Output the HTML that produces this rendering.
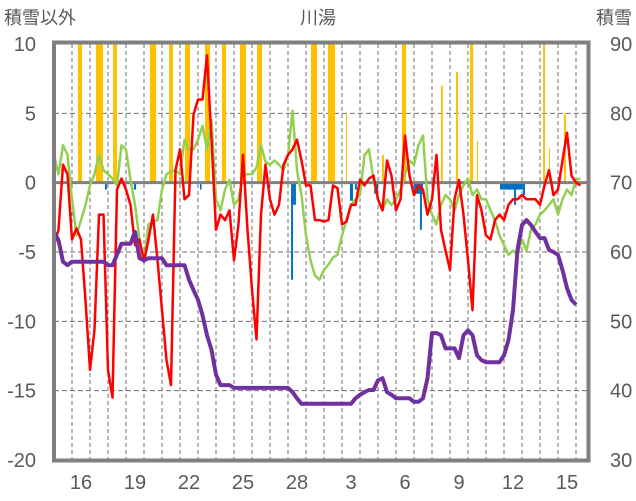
<!DOCTYPE html>
<html><head><meta charset="utf-8">
<style>
body{margin:0;background:#fff;}
svg{display:block;font-family:"Liberation Sans","Noto Sans CJK JP",sans-serif;}
.t{fill:#595959;font-size:20px;}
</style></head>
<body>
<svg id="chart" width="636" height="501">
<text class="t" x="4" y="24" style="font-size:18px">積雪以外</text>
<text class="t" x="318" y="24" text-anchor="middle" style="font-size:18px">川湯</text>
<text class="t" x="632" y="24" text-anchor="end" style="font-size:18px">積雪</text>
<g id="grid"></g><g id="bars"></g><g id="lines"></g><g id="axes"></g>
</svg>
<script>
const dayLabels=["16","19","22","25","28","3","6","9","12","15"];
const dayLabelIdx=[1,4,7,10,13,16,19,22,25,28];
const leftTicks=[10,5,0,-5,-10,-15,-20];
const rightTicks=[90,80,70,60,50,40,30];
const step=0.25;
const redV=[-4.5,-3.4,1.3,0.6,-4.1,-3.3,-4.1,-8.5,-13.5,-10.6,-2.3,-2.3,-13.5,-15.5,-0.5,0.3,-0.5,-1.6,-4.5,-4.1,-5.7,-4.1,-2.3,-5.6,-9.2,-12.8,-14.6,0.9,2.4,-1.2,-0.9,4.9,6.0,6.0,9.2,3.1,-3.4,-2.3,-2.7,-2.0,-5.6,-3.0,2.0,-3.4,-7.7,-11.3,-2.3,1.3,-1.2,-2.3,-1.6,1.3,2.0,2.4,3.1,1.6,-0.2,-0.2,-2.7,-2.7,-2.8,-2.7,-0.2,-0.4,-3.0,-2.8,-1.6,-1.6,0.2,-0.2,0.3,0.5,-1.2,-2.0,1.6,0.5,-2.0,-1.2,3.4,0.5,-0.9,-0.2,-0.5,-2.3,-1.2,2.0,-3.4,-4.9,-6.3,-1.2,0.2,-2.3,-5.6,-9.2,-0.9,-2.0,-3.8,-4.1,-2.7,-2.3,-2.7,-1.6,-1.2,-1.2,-0.9,-1.2,-1.2,-1.2,-1.6,-0.2,0.9,-0.9,-0.5,1.6,3.6,0.5,0.0,-0.2];
const greenV=[2.0,0.6,2.7,2.0,-1.2,-3.8,-2.7,-1.6,-0.2,0.6,2.0,0.9,0.6,0.3,-0.2,2.7,2.4,0.2,-1.6,-4.1,-5.7,-3.0,-2.8,-2.7,-0.5,0.6,0.8,0.9,0.6,3.1,2.4,2.4,3.1,4.1,2.4,4.5,-1.2,-2.0,-0.5,0.2,-1.6,-1.2,0.6,0.6,0.6,1.1,2.7,1.5,1.3,1.6,1.3,0.9,2.0,5.2,0.9,-0.9,-3.8,-5.6,-6.7,-7.0,-6.3,-5.9,-5.4,-5.2,-3.8,-2.7,-1.6,-1.2,-0.9,2.0,2.4,0.2,-1.2,-2.0,-1.2,-1.6,-1.2,-0.5,0.6,1.6,1.3,2.7,3.4,-1.2,-2.3,-3.0,-1.6,-0.9,-1.2,-2.0,-0.9,-0.2,0.3,-0.9,-0.5,-1.2,-1.2,-2.0,-2.7,-3.8,-4.5,-5.2,-4.9,-5.2,-4.1,-4.9,-3.4,-3.0,-2.3,-2.0,-1.6,-1.2,-2.3,-1.2,-0.5,-0.9,0.2,0.3];
const snowV=[62.9,61.7,58.6,58.1,58.6,58.6,58.6,58.6,58.6,58.6,58.6,58.6,58.1,58.1,59.6,61.2,61.2,61.2,62.9,59.1,58.8,59.1,59.1,59.1,59.1,58.1,58.1,58.1,58.1,58.1,56.0,54.5,53.1,50.9,48.0,45.9,42.3,40.8,40.8,40.8,40.4,40.4,40.4,40.4,40.4,40.4,40.4,40.4,40.4,40.4,40.4,40.4,40.4,39.8,38.9,38.1,38.1,38.1,38.1,38.1,38.1,38.1,38.1,38.1,38.1,38.1,38.1,38.9,39.4,39.8,40.1,40.1,41.5,41.8,39.8,39.4,38.9,38.9,38.9,38.9,38.4,38.4,38.9,41.8,48.3,48.3,48.0,46.1,46.1,46.1,44.7,48.0,48.7,48.0,45.1,44.4,44.1,44.1,44.1,44.1,45.1,47.3,51.6,60.3,63.9,64.6,63.9,62.9,62.0,62.0,60.3,60.0,59.6,57.4,54.8,53.1,52.4];
const precipStart=[1.33,2.33,3.28,5.33,6.39,7.28,8.39,9.33,10.33,11.28,14.28,15.22,16.22,18.22,19.33,21.5,22.33,23.11,23.5,27.17,27.5,28.33];
const precipEnd=[1.56,2.72,3.5,5.67,6.61,7.56,8.67,9.56,10.67,11.56,14.61,15.61,16.28,18.33,19.56,21.6,22.44,23.28,23.56,27.28,27.56,28.44];
const precipV=[10,10,10,10,10,10,10,10,10,10,10,10,5,2,10,7,8,10,3,10,2.5,5];
const blueStart=[2.83,4.44,8.11,13.17,13.28,16.44,16.72,17.78,20.0,20.33,24.78,25.56,26.06];
const blueEnd=[2.94,4.56,8.2,13.28,13.44,16.61,16.83,18.0,20.5,20.44,26.06,25.67,26.17];
const blueV=[-0.5,-0.5,-0.5,-7,-1.6,-1.3,-0.5,-0.8,-0.8,-3.4,-0.5,-1.6,-0.9];

const X0=54,DX=18,Y10=44,Y20=460;
const xs=t=>X0+DX*t;
const yL=v=>Y10+(10-v)*(Y20-Y10)/30;
const yR=v=>Y10+(90-v)*(Y20-Y10)/60;
const NS="http://www.w3.org/2000/svg";
function mk(tag,attrs,parent){const e=document.createElementNS(NS,tag);for(const k in attrs)e.setAttribute(k,attrs[k]);parent.appendChild(e);return e;}
const grid=document.getElementById('grid'),bars=document.getElementById('bars'),lines=document.getElementById('lines'),axes=document.getElementById('axes');
for(let d=1;d<30;d++){const l=mk('line',{x1:xs(d),x2:xs(d),y1:44,y2:460,stroke:'#6f6f6f','stroke-width':1,'stroke-dasharray':'4,3'},grid);

}
leftTicks.forEach(v=>{if(v===10||v===-20||v===0)return;const l=mk('line',{x1:54,x2:588,y1:yL(v),y2:yL(v),stroke:'#6f6f6f','stroke-width':1,'stroke-dasharray':'5,3'},grid);

});
precipV.forEach((v,i)=>{const r=mk('rect',{x:xs(precipStart[i]),y:yL(Math.min(v,10)),width:Math.max(1,xs(precipEnd[i])-xs(precipStart[i])),height:yL(0)-yL(Math.min(v,10)),fill:'#FFC000'},bars);

});
blueV.forEach((v,i)=>{const r=mk('rect',{x:xs(blueStart[i]),y:yL(0),width:Math.max(1,xs(blueEnd[i])-xs(blueStart[i])),height:yL(v)-yL(0),fill:'#0070C0'},bars);

});
const zl=mk('line',{x1:54,x2:588,y1:yL(0),y2:yL(0),stroke:'#808080','stroke-width':3},bars);


function path(vals,fy,color,w,name){const d=vals.map((v,i)=>(i?'L':'M')+xs(i*step).toFixed(1)+','+fy(v).toFixed(1)).join('');
const p=mk('path',{d:d,fill:'none',stroke:color,'stroke-width':w,'stroke-linejoin':'round'},lines);

}
path(greenV,yL,'#92D050',2.5,'series-green-line');
path(redV,yL,'#FF0000',2.5,'series-red-line');
path(snowV,yR,'#7030A0',4,'snow-depth-line');
const fr=mk('rect',{x:54,y:42.5,width:534.5,height:418,fill:'none',stroke:'#808080','stroke-width':4},axes);


leftTicks.forEach(v=>{const t=mk('text',{x:36,y:yL(v)+7,'text-anchor':'end',class:'t'},axes);t.textContent=v;

});
rightTicks.forEach(v=>{const t=mk('text',{x:610,y:yR(v)+7,class:'t'},axes);t.textContent=v;

});
dayLabels.forEach((s,i)=>{const t=mk('text',{x:xs(dayLabelIdx[i]+0.5),y:489,'text-anchor':'middle',class:'t'},axes);t.textContent=s;

});
</script>
</body></html>
